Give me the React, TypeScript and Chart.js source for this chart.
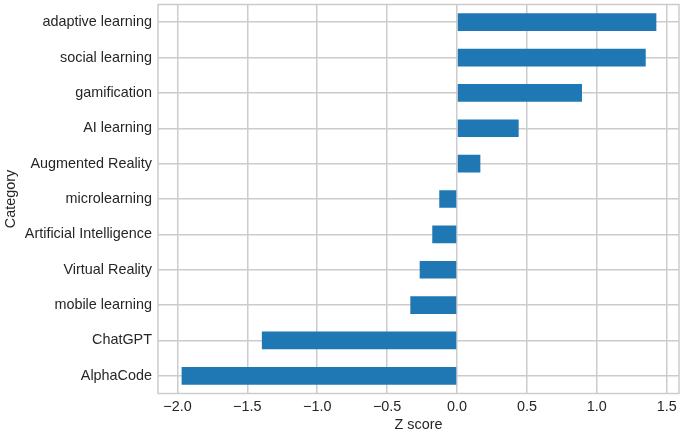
import { useEffect, useRef } from 'react';
import { Chart, registerables } from 'chart.js';

Chart.register(...registerables);

const categories = [
  'adaptive learning',
  'social learning',
  'gamification',
  'AI learning',
  'Augmented Reality',
  'microlearning',
  'Artificial Intelligence',
  'Virtual Reality',
  'mobile learning',
  'ChatGPT',
  'AlphaCode',
];
const zScores = [1.426, 1.35, 0.894, 0.441, 0.167, -0.127, -0.177, -0.267, -0.334, -1.396, -1.97];
const xTicks = [-2.0, -1.5, -1.0, -0.5, 0.0, 0.5, 1.0, 1.5];

const GRID = '#cccccc';
const TEXT = '#262626';
const FONT = "'Liberation Sans', Arial, sans-serif";
const SIZE = 14.4;

// frame around the plot area, like matplotlib spines
const framePlugin = {
  id: 'frame',
  afterDraw(chart: Chart) {
    const { ctx, chartArea } = chart;
    ctx.save();
    ctx.strokeStyle = GRID;
    ctx.lineWidth = 1.5;
    ctx.strokeRect(chartArea.left, chartArea.top, chartArea.right - chartArea.left, chartArea.bottom - chartArea.top);
    ctx.restore();
  },
};

export default function App() {
  const canvasRef = useRef<HTMLCanvasElement>(null);
  const chartRef = useRef<Chart | null>(null);

  useEffect(() => {
    if (!canvasRef.current) return;
    if (chartRef.current) chartRef.current.destroy();

    chartRef.current = new Chart(canvasRef.current, {
      type: 'bar',
      data: {
        labels: categories,
        datasets: [{
          data: zScores,
          backgroundColor: '#1f77b4',
          borderWidth: 0,
          categoryPercentage: 1,
          barPercentage: 0.5,
        }],
      },
      options: {
        indexAxis: 'y',
        animation: false,
        responsive: true,
        maintainAspectRatio: false,
        layout: { padding: { top: 4.5, right: 6, left: 0, bottom: 0 } },
        plugins: {
          legend: { display: false },
          tooltip: { enabled: false },
        },
        scales: {
          x: {
            type: 'linear',
            min: -2.139,
            max: 1.588,
            afterBuildTicks: (axis: any) => {
              axis.ticks = xTicks.map((v) => ({ value: v }));
            },
            afterFit: (axis: any) => {
              axis.height = 40.5;
              axis.paddingLeft = 0;
              axis.paddingRight = 0;
            },
            grid: { color: GRID, lineWidth: 1.5, drawTicks: false },
            border: { display: false },
            ticks: {
              color: TEXT,
              font: { family: FONT, size: SIZE },
              padding: 5,
              callback: (v: any) => Number(v).toFixed(1).replace('-', '\u2212'),
            },
            title: {
              display: true,
              text: 'Z score',
              color: TEXT,
              font: { family: FONT, size: SIZE },
              padding: { top: 2, bottom: 0 },
            },
          },
          y: {
            afterFit: (axis: any) => {
              axis.width = 158;
              axis.paddingTop = 0;
              axis.paddingBottom = 0;
            },
            grid: { color: GRID, lineWidth: 1.5, drawTicks: false, offset: false },
            border: { display: false },
            ticks: {
              color: TEXT,
              font: { family: FONT, size: SIZE },
              padding: 6,
            },
            title: {
              display: true,
              text: 'Category',
              color: TEXT,
              font: { family: FONT, size: SIZE },
              padding: { top: 2, bottom: 0 },
            },
          },
        },
      },
      plugins: [framePlugin],
    });

    return () => {
      if (chartRef.current) {
        chartRef.current.destroy();
        chartRef.current = null;
      }
    };
  }, []);

  return (
    <div style={{ position: 'absolute', left: 0, top: 0, width: 685, height: 434, background: '#fff' }}>
      <canvas ref={canvasRef} />
    </div>
  );
}
